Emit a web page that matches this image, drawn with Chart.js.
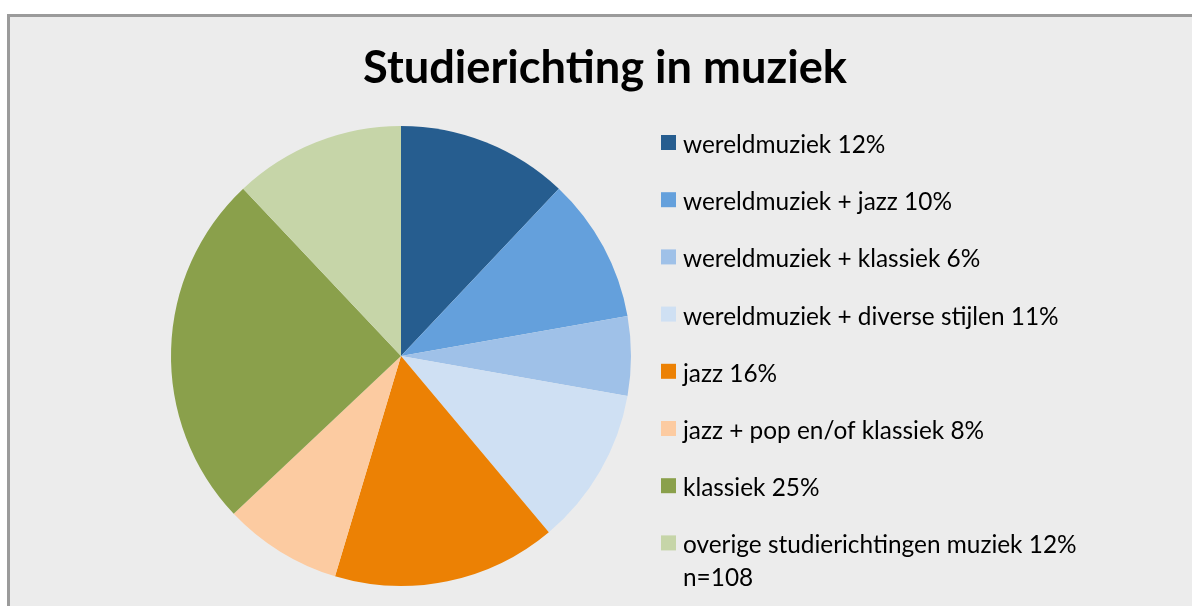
<!DOCTYPE html>
<html>
<head>
<meta charset="utf-8">
<script src="https://cdn.jsdelivr.net/npm/chart.js@4/dist/chart.umd.min.js"></script>
<style>
  html, body { margin: 0; padding: 0; background: #fff; overflow: hidden; }
  #frame {
    position: absolute; left: 7px; top: 14px; width: 1200px; height: 610px;
    background: #ececec; border: 3px solid #9b9b9b; box-sizing: border-box;
  }
  #wrap { position: absolute; left: 0; top: 0; width: 1192px; height: 606px; }
</style>
</head>
<body>
<div id="frame"></div>
<div id="wrap"><canvas id="pie"></canvas></div>
<script>
const TITLE = 'Studierichting in muziek';
const LABELS = [
  'wereldmuziek 12%',
  'wereldmuziek + jazz 10%',
  'wereldmuziek + klassiek 6%',
  'wereldmuziek + diverse stijlen 11%',
  'jazz 16%',
  'jazz + pop en/of klassiek 8%',
  'klassiek 25%',
  ['overige studierichtingen muziek 12%', 'n=108'],
];
// counts out of n=108
const VALUES = [13, 11, 6, 12, 17, 9, 27, 13];
const COLORS = ['#265d8f', '#64a0dc', '#9fc1e8', '#cfe0f3', '#ec8104', '#fccba1', '#8aa04b', '#c6d5a8'];

const FONT = 'Lato, "Open Sans", sans-serif';

// fit a font size so text spans the wanted width
function fitSize(ctx, text, weight, width) {
  ctx.font = `${weight} 100px ${FONT}`;
  return 100 * width / ctx.measureText(text).width;
}

const decor = {
  id: 'decor',
  afterDraw(chart) {
    const ctx = chart.ctx;
    ctx.save();
    ctx.fillStyle = '#000';
    ctx.textBaseline = 'alphabetic';

    const ts = fitSize(ctx, TITLE, 'bold', 484);
    ctx.font = `bold ${ts}px ${FONT}`;
    ctx.textAlign = 'center';
    ctx.fillText(TITLE, 605, 83);

    const ls = fitSize(ctx, LABELS[3], 'normal', 376);
    ctx.font = `normal ${ls}px ${FONT}`;
    ctx.textAlign = 'left';
    const bg = chart.data.datasets[0].backgroundColor;
    chart.data.labels.forEach((lab, i) => {
      const y = 153 + 57.2 * i;
      ctx.fillStyle = bg[i];
      ctx.fillRect(661, y - 18, 15, 15);
      ctx.fillStyle = '#000';
      const lines = Array.isArray(lab) ? lab : [lab];
      lines.forEach((t, j) => ctx.fillText(t, 683, y + 33 * j));
    });
    ctx.restore();
  }
};

new Chart(document.getElementById('pie'), {
  type: 'pie',
  data: {
    labels: LABELS,
    datasets: [{
      data: VALUES,
      backgroundColor: COLORS,
      borderWidth: 0,
    }]
  },
  options: {
    responsive: true,
    maintainAspectRatio: false,
    animation: false,
    events: [],
    layout: { padding: { left: 171, right: 561, top: 126, bottom: 20 } },
    plugins: {
      legend: { display: false },
      tooltip: { enabled: false },
      title: { display: false },
    }
  },
  plugins: [decor]
});
</script>
</body>
</html>
